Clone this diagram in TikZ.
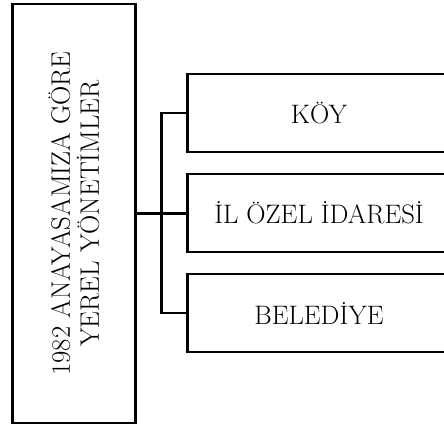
\documentclass[tikz,border=0pt]{standalone}
\usepackage{fontspec}
\setmainfont{Latin Modern Roman}
\usetikzlibrary{positioning}

\tikzstyle{mainbox} = [rectangle, draw=black, line width=2.8pt, minimum width=419pt, minimum height=123.6pt, inner sep=0pt, align=center, font=\fontsize{26.7}{29}\selectfont]
\tikzstyle{unit} = [rectangle, draw=black, line width=2.8pt, minimum width=263pt, minimum height=78pt, inner sep=0pt, font=\fontsize{26.7}{32}\selectfont]
\tikzstyle{link} = [line width=2.7pt]

\begin{document}
\begin{tikzpicture}[x=1pt, y=1pt, node distance=100pt]
		\useasboundingbox (0,0) rectangle (444,425);
		% Nodes
		\node (main) [mainbox, rotate=90] at (74, 211.5) {1982 ANAYASAMIZA GÖRE\\YEREL YÖNETİMLER};
		\node (koy) [unit] at (319, 312) {KÖY};
		\node (il) [unit, below of=koy] {İL ÖZEL İDARESİ};
		\node (belediye) [unit, below of=il] {BELEDİYE};
		% Lines
		\coordinate (bus) at (161.4, 211.5);
		\draw [link] (main) -- (bus);
		\draw [link] (bus) |- (koy);
		\draw [link] (bus) -- (il);
		\draw [link] (bus) |- (belediye);
	\end{tikzpicture}
\end{document}
